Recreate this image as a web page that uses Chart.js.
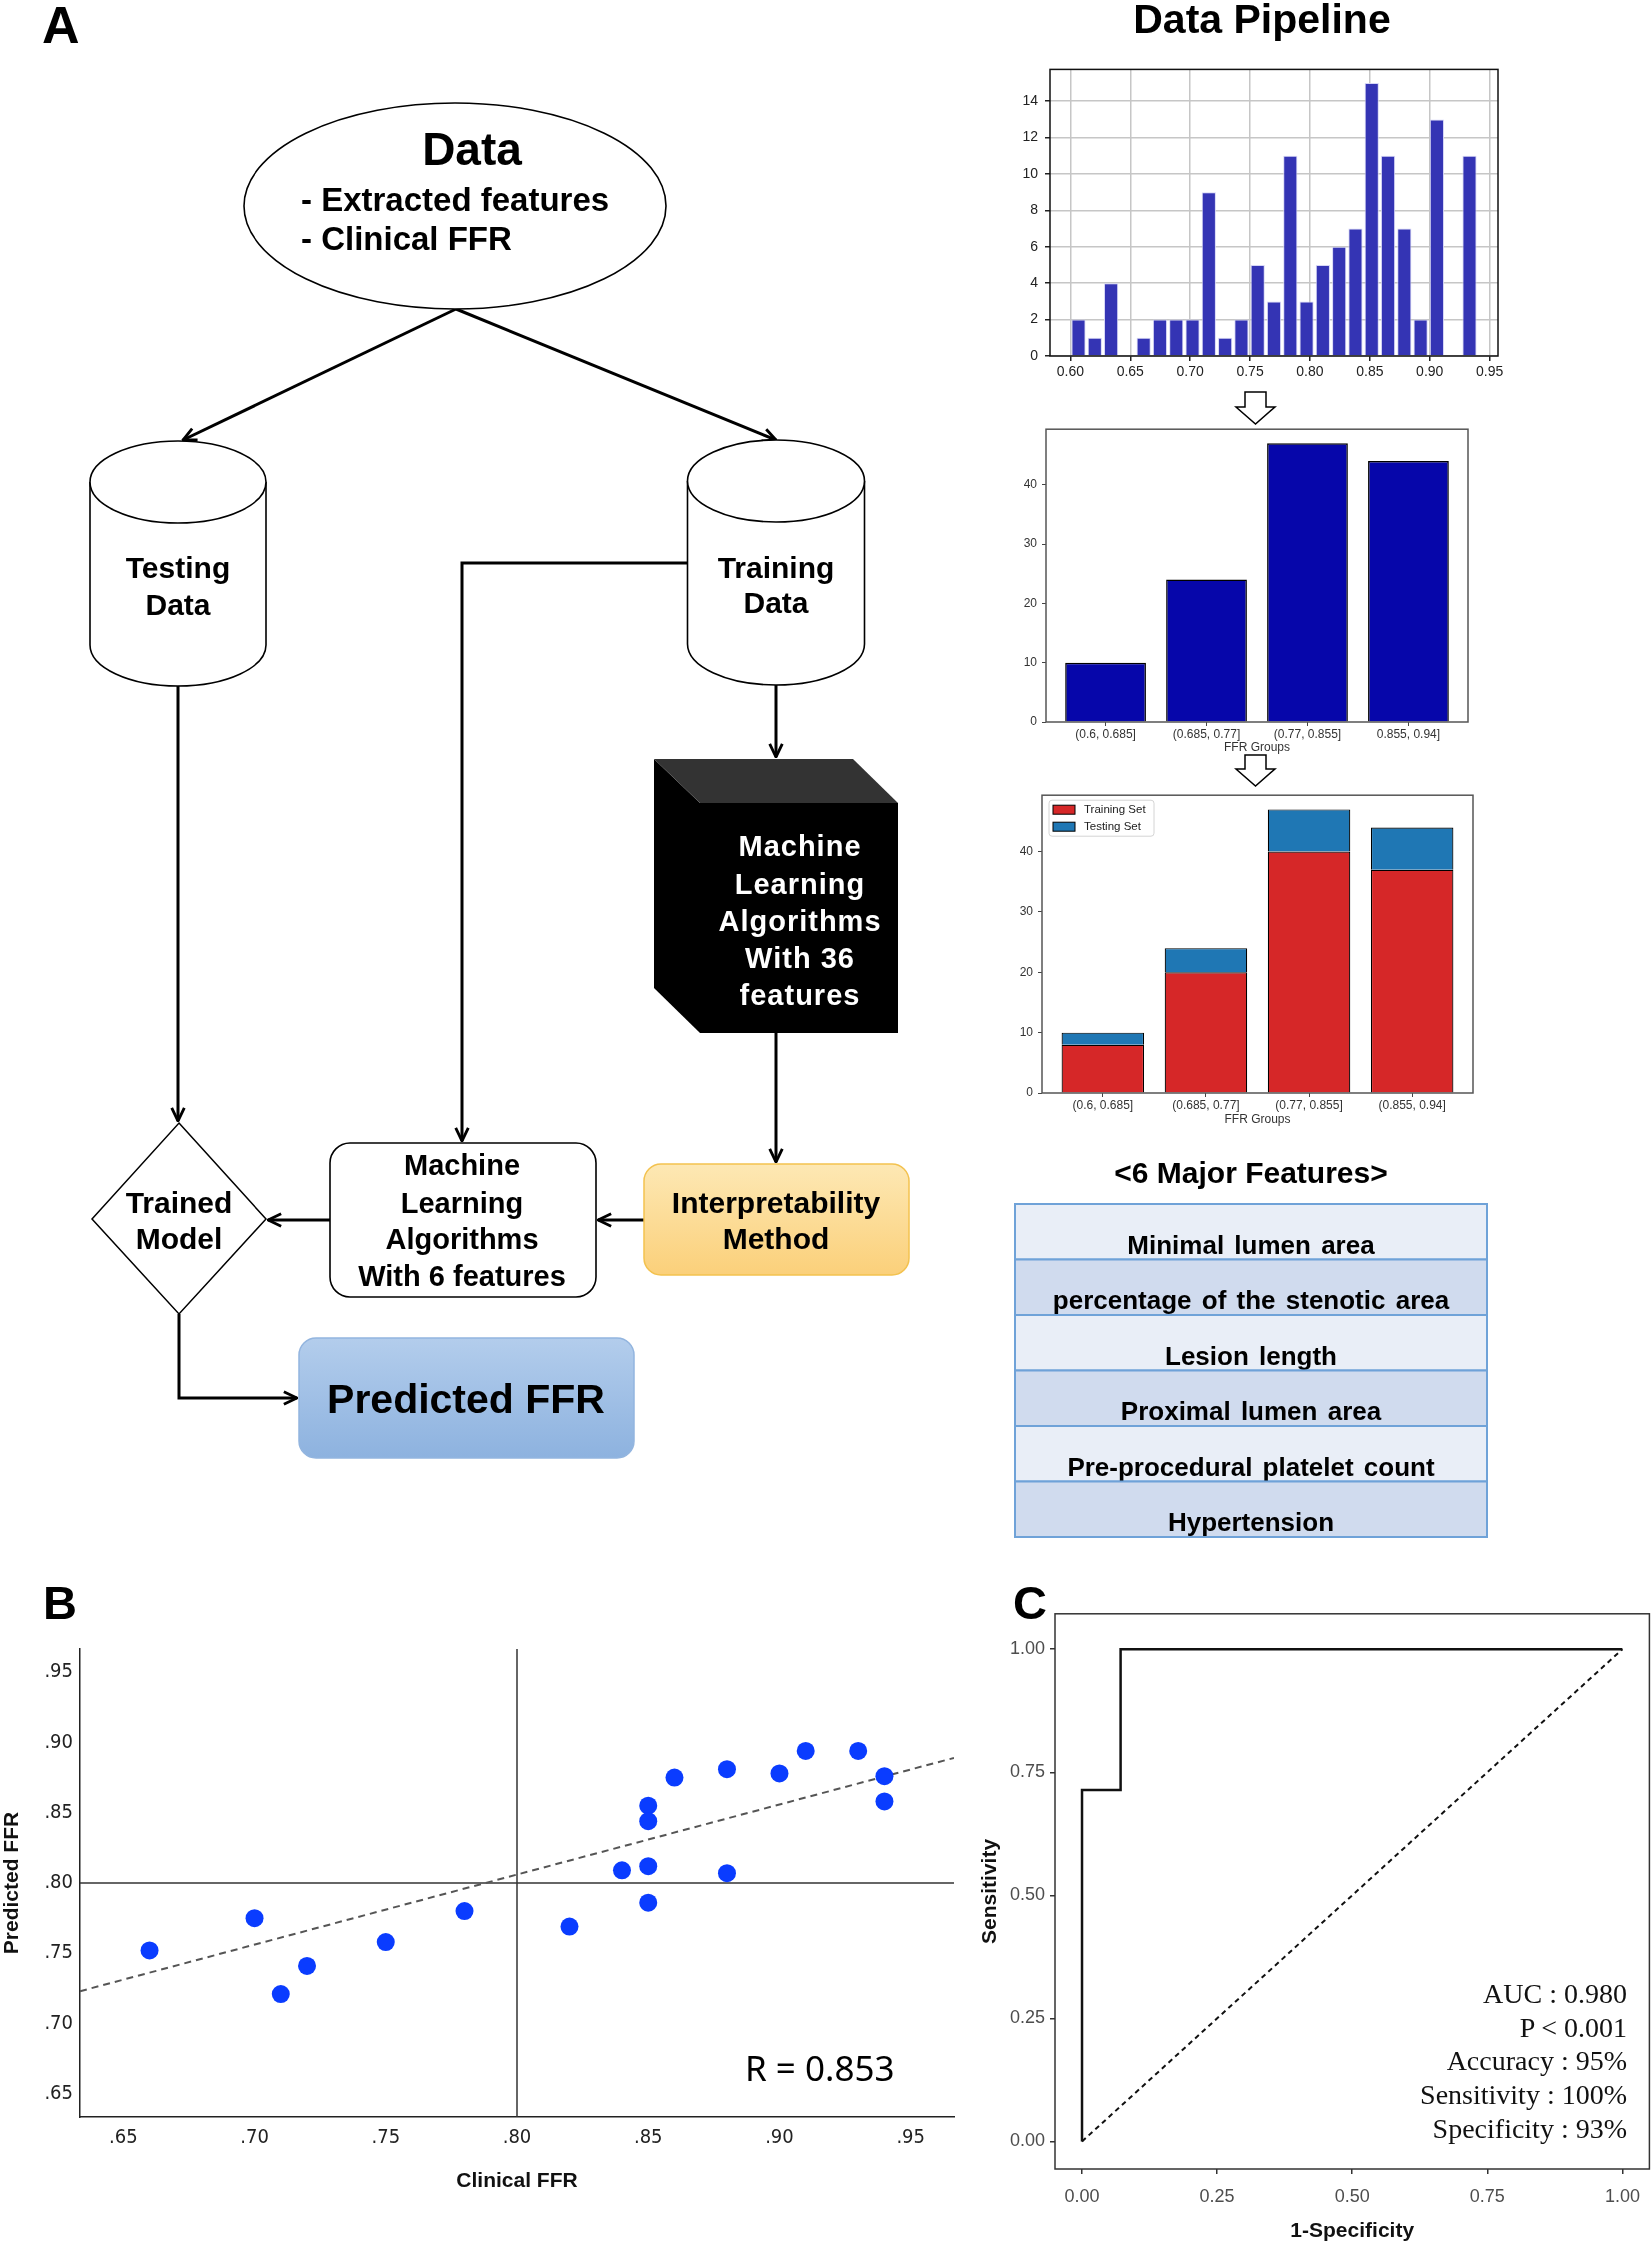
<!DOCTYPE html>
<html>
<head>
<meta charset="utf-8">
<script src="https://cdn.jsdelivr.net/npm/chart.js@4.4.1/dist/chart.umd.min.js"></script>
<style>
  html, body { margin: 0; padding: 0; background: #fff; }
  #page { position: relative; width: 1652px; height: 2244px; overflow: hidden; background: #fff; }
  canvas { position: absolute; }
  #art { position: absolute; left: 0; top: 0; pointer-events: none; }
</style>
</head>
<body>
<div id="page">
  <canvas id="hist" width="510" height="330" style="left:1000px;top:54px;width:510px;height:330px"></canvas>
  <canvas id="groups" width="484" height="340" style="left:996px;top:417px;width:484px;height:340px"></canvas>
  <canvas id="split" width="492" height="345" style="left:992px;top:783px;width:492px;height:345px"></canvas>
  <canvas id="scatter" width="970" height="570" style="left:0px;top:1630px;width:970px;height:570px"></canvas>
  <canvas id="roc" width="692" height="646" style="left:960px;top:1598px;width:692px;height:646px"></canvas>

  <svg id="art" width="1652" height="2244" viewBox="0 0 1652 2244" font-family="'Liberation Sans', Arial, sans-serif">
    <defs>
      <marker id="ah" viewBox="0 0 14 14" refX="13" refY="7" markerWidth="16" markerHeight="16" markerUnits="userSpaceOnUse" orient="auto">
        <path d="M1.5,1.5 L13,7 L1.5,12.5" fill="none" stroke="#000" stroke-width="2.5"/>
      </marker>
      <linearGradient id="gOrange" x1="0" y1="0" x2="0" y2="1">
        <stop offset="0" stop-color="#fde8b4"/><stop offset="1" stop-color="#fbd07a"/>
      </linearGradient>
      <linearGradient id="gBlue" x1="0" y1="0" x2="0" y2="1">
        <stop offset="0" stop-color="#b3cdec"/><stop offset="1" stop-color="#8db2df"/>
      </linearGradient>
    </defs>

    <!-- panel letters and headings -->
    <text x="42" y="43" font-size="52" font-weight="bold">A</text>
    <text x="43" y="1619" font-size="47" font-weight="bold">B</text>
    <text x="1013" y="1619" font-size="47" font-weight="bold">C</text>
    <text x="1262" y="33" font-size="41" font-weight="bold" text-anchor="middle">Data Pipeline</text>

    <!-- flowchart -->
    <g stroke="#000" stroke-width="3" fill="none">
      <path d="M456,309 L183,440" marker-end="url(#ah)"/>
      <path d="M456,309 L776,440" marker-end="url(#ah)"/>
      <path d="M687,563 L462,563 L462,1141" marker-end="url(#ah)"/>
      <path d="M178,686 L178,1121" marker-end="url(#ah)"/>
      <path d="M776,685 L776,757" marker-end="url(#ah)"/>
      <path d="M776,1033 L776,1162" marker-end="url(#ah)"/>
      <path d="M644,1220 L598,1220" marker-end="url(#ah)"/>
      <path d="M330,1220 L268,1220" marker-end="url(#ah)"/>
      <path d="M179,1314 L179,1398 L297,1398" marker-end="url(#ah)"/>
    </g>

    <ellipse cx="455" cy="206" rx="211" ry="103" fill="#fff" stroke="#000" stroke-width="1.6"/>
    <text x="472" y="149" font-size="46" font-weight="bold" text-anchor="middle" dominant-baseline="central">Data</text>
    <text x="301" y="199" font-size="33" font-weight="bold" dominant-baseline="central">- Extracted features</text>
    <text x="301" y="238" font-size="33" font-weight="bold" dominant-baseline="central">- Clinical FFR</text>

    <g fill="#fff" stroke="#000" stroke-width="1.6">
      <path d="M90,482 L90,645 A88,41 0 0 0 266,645 L266,482"/>
      <ellipse cx="178" cy="482" rx="88" ry="41"/>
      <path d="M687.5,481 L687.5,644 A88.5,41 0 0 0 864.5,644 L864.5,481"/>
      <ellipse cx="776" cy="481" rx="88.5" ry="41"/>
    </g>
    <g font-size="30" font-weight="bold" text-anchor="middle" dominant-baseline="central">
      <text x="178" y="567">Testing</text>
      <text x="178" y="604">Data</text>
      <text x="776" y="567">Training</text>
      <text x="776" y="602">Data</text>
    </g>

    <polygon points="654,759 700,803 700,1033 654,988" fill="#000"/>
    <polygon points="654,759 853,759 898,803 700,803" fill="#333"/>
    <rect x="700" y="803" width="198" height="230" fill="#000"/>
    <g font-size="29" font-weight="bold" fill="#fff" text-anchor="middle" dominant-baseline="central" letter-spacing="1">
      <text x="800" y="846">Machine</text>
      <text x="800" y="884">Learning</text>
      <text x="800" y="921">Algorithms</text>
      <text x="800" y="958">With 36</text>
      <text x="800" y="995">features</text>
    </g>

    <rect x="644" y="1164" width="265" height="111" rx="17" fill="url(#gOrange)" stroke="#f3c24f" stroke-width="1.5"/>
    <g font-size="30" font-weight="bold" text-anchor="middle" dominant-baseline="central">
      <text x="776" y="1202">Interpretability</text>
      <text x="776" y="1238">Method</text>
    </g>

    <rect x="330" y="1143" width="266" height="154" rx="20" fill="#fff" stroke="#000" stroke-width="1.6"/>
    <g font-size="29" font-weight="bold" text-anchor="middle" dominant-baseline="central">
      <text x="462" y="1165">Machine</text>
      <text x="462" y="1203">Learning</text>
      <text x="462" y="1239">Algorithms</text>
      <text x="462" y="1276">With 6 features</text>
    </g>

    <polygon points="179,1123 266,1219 179,1314 92,1219" fill="#fff" stroke="#000" stroke-width="1.5"/>
    <g font-size="30" font-weight="bold" text-anchor="middle" dominant-baseline="central">
      <text x="179" y="1202">Trained</text>
      <text x="179" y="1238">Model</text>
    </g>

    <rect x="299" y="1338" width="335" height="120" rx="17" fill="url(#gBlue)" stroke="#93b5df" stroke-width="1.5"/>
    <text x="466" y="1399" font-size="41" font-weight="bold" text-anchor="middle" dominant-baseline="central">Predicted FFR</text>

    <!-- hollow pipeline arrows -->
    <polygon points="1245,392 1266,392 1266,407 1275,407 1255.5,424 1236,407 1245,407" fill="#fff" stroke="#000" stroke-width="1.5"/>
    <polygon points="1245,755 1266,755 1266,769 1275,769 1255.5,786 1236,769 1245,769" fill="#fff" stroke="#000" stroke-width="1.5"/>

    <text x="1251" y="1183" font-size="30" font-weight="bold" text-anchor="middle">&lt;6 Major Features&gt;</text>
    <g id="featureTable"></g>

    <text x="745" y="2081" font-size="35" font-family="'Noto Sans', 'Liberation Sans', sans-serif">R = 0.853</text>
    <g id="rocStats" font-family="'Liberation Serif', 'Times New Roman', serif" font-size="28" fill="#111" text-anchor="end"></g>
  </svg>
</div>

<script>
// ---- histogram of clinical FFR (all lesions) ----
const histRange = [0.60, 0.94];
const histBinCount = 25;
const histCounts = [2, 1, 4, 0, 1, 2, 2, 2, 9, 1, 2, 5, 3, 11, 3, 5, 6, 7, 15, 11, 7, 2, 13, 0, 11];
const histXTicks = [0.60, 0.65, 0.70, 0.75, 0.80, 0.85, 0.90, 0.95];
const histYTicks = [0, 2, 4, 6, 8, 10, 12, 14];

// ---- FFR groups ----
const groupLabels = ['(0.6, 0.685]', '(0.685, 0.77]', '(0.77, 0.855]', '0.855, 0.94]'];
const splitLabels = ['(0.6, 0.685]', '(0.685, 0.77]', '(0.77, 0.855]', '(0.855, 0.94]'];
const groupCounts = [10, 24, 47, 44];
const trainCounts = [8, 20, 40, 37];
const testCounts = [2, 4, 7, 7];
const groupYTicks = [0, 10, 20, 30, 40];

// ---- scatter: clinical vs predicted FFR ----
const clinicalFFR = [0.66, 0.70, 0.71, 0.72, 0.75, 0.78, 0.82, 0.84, 0.85, 0.85, 0.85, 0.85, 0.86, 0.88, 0.88, 0.90, 0.91, 0.93, 0.94, 0.94];
const predictedFFR = [0.752, 0.775, 0.721, 0.741, 0.758, 0.780, 0.769, 0.809, 0.855, 0.844, 0.812, 0.786, 0.875, 0.881, 0.807, 0.878, 0.894, 0.894, 0.876, 0.858];
const fitLineX = [0.6335, 0.9665];
const fitLineY = [0.723, 0.889];
const cutoff = 0.80;
const ffrTicks = [0.65, 0.70, 0.75, 0.80, 0.85, 0.90, 0.95];

// ---- ROC ----
const rocFPR = [0, 0, 0.0714, 0.0714, 1];
const rocTPR = [0, 0.714, 0.714, 1, 1];
const rocTicks = [0, 0.25, 0.50, 0.75, 1.00];
const rocStats = ['AUC : 0.980', 'P < 0.001', 'Accuracy : 95%', 'Sensitivity : 100%', 'Specificity : 93%'];

const majorFeatures = ['Minimal lumen area', 'percentage of the stenotic area', 'Lesion length',
  'Proximal lumen area', 'Pre-procedural platelet count', 'Hypertension'];

Chart.defaults.font.family = "'Liberation Sans', Arial, sans-serif";
Chart.defaults.animation = false;
Chart.defaults.responsive = false;
Chart.defaults.plugins.legend.display = false;
Chart.defaults.plugins.tooltip.enabled = false;

// box around the plot area
Chart.register({
  id: 'frame',
  afterDraw(chart, args, opts) {
    if (!opts || !opts.color) return;
    const { ctx, chartArea: a } = chart;
    ctx.save();
    ctx.strokeStyle = opts.color;
    ctx.lineWidth = opts.width || 1;
    ctx.strokeRect(a.left, a.top, a.right - a.left, a.bottom - a.top);
    ctx.restore();
  }
});

const fixTicks = (list) => (axis) => { axis.ticks = list.map(v => ({ value: v })); };
const fixWidth = (w) => (s) => { s.width = w; };
const fixHeight = (h) => (s) => { s.height = h; };

// histogram
const binW = (histRange[1] - histRange[0]) / histBinCount;
new Chart(document.getElementById('hist'), {
  type: 'bar',
  data: {
    datasets: [{
      data: histCounts.map((c, i) => ({ x: histRange[0] + (i + 0.5) * binW, y: c })),
      backgroundColor: '#3434b4',
      borderColor: 'rgba(210,210,245,0.9)',
      borderWidth: 1,
      barPercentage: 0.87,
      categoryPercentage: 1
    }]
  },
  options: {
    layout: { padding: { top: 10, right: 12, left: 0, bottom: 0 } },
    scales: {
      x: {
        type: 'linear', offset: false, min: 0.583, max: 0.957, z: 1,
        afterBuildTicks: fixTicks(histXTicks), afterFit: fixHeight(28),
        grid: { offset: false, color: '#c6c6c6', lineWidth: 1.5, tickLength: 5, tickColor: '#222' },
        border: { display: false },
        ticks: { padding: 3, color: '#222', font: { size: 14 }, autoSkip: false, maxRotation: 0, callback: v => v.toFixed(2) }
      },
      y: {
        min: 0, max: 15.75, z: 1,
        afterBuildTicks: fixTicks(histYTicks), afterFit: fixWidth(50),
        grid: { color: '#c6c6c6', lineWidth: 1.5, tickLength: 5, tickColor: '#222' },
        border: { display: false },
        ticks: { padding: 7, color: '#222', font: { size: 14 } }
      }
    },
    plugins: { frame: { color: '#111', width: 1.5 } }
  }
});

function groupAxes(labels, xh, tickPad, titlePad) {
  return {
    x: {
      type: 'linear', offset: false, min: -0.59, max: 3.59, stacked: true,
      afterBuildTicks: fixTicks(labels.map((l, i) => i)), afterFit: fixHeight(xh),
      grid: { display: true, offset: false, drawOnChartArea: false, tickLength: 4, color: '#444' },
      border: { display: false },
      ticks: { padding: tickPad, color: '#333', font: { size: 12 }, autoSkip: false, maxRotation: 0, callback: v => labels[v] },
      title: { display: true, text: 'FFR Groups', color: '#333', font: { size: 12 }, padding: { top: 0, bottom: titlePad } }
    },
    y: {
      min: 0, max: 49.35, stacked: true,
      afterBuildTicks: fixTicks(groupYTicks), afterFit: fixWidth(50),
      grid: { display: true, drawOnChartArea: false, tickLength: 4, color: '#444' },
      border: { display: false },
      ticks: { padding: 5, color: '#333', font: { size: 12 } }
    }
  };
}

// group counts
new Chart(document.getElementById('groups'), {
  type: 'bar',
  data: {
    datasets: [{
      data: groupCounts.map((c, i) => ({ x: i, y: c })),
      backgroundColor: '#0606aa', borderColor: '#000', borderWidth: 1.5,
      barPercentage: 0.8, categoryPercentage: 1
    }]
  },
  options: {
    layout: { padding: { top: 10, right: 12, left: 0, bottom: 0 } },
    scales: groupAxes(groupLabels, 35, 1, 2),
    plugins: { frame: { color: '#555', width: 1.5 } }
  }
});

// training / testing split with an in-plot legend
const boxLegend = {
  id: 'boxLegend',
  afterDraw(chart) {
    const { ctx, chartArea: a } = chart;
    ctx.save();
    ctx.fillStyle = 'rgba(255,255,255,0.85)';
    ctx.strokeStyle = '#d4d4d4';
    ctx.lineWidth = 1;
    ctx.beginPath();
    ctx.roundRect(a.left + 7, a.top + 5, 105, 36, 3);
    ctx.fill();
    ctx.stroke();
    ctx.font = "11.5px 'Liberation Sans', Arial, sans-serif";
    ctx.textBaseline = 'middle';
    chart.data.datasets.forEach((ds, i) => {
      const y = a.top + 10 + i * 17;
      ctx.fillStyle = ds.backgroundColor;
      ctx.fillRect(a.left + 11, y, 22, 9);
      ctx.strokeStyle = '#000';
      ctx.strokeRect(a.left + 11, y, 22, 9);
      ctx.fillStyle = '#222';
      ctx.fillText(ds.label, a.left + 42, y + 4.5);
    });
    ctx.restore();
  }
};
new Chart(document.getElementById('split'), {
  type: 'bar',
  data: {
    datasets: [
      { label: 'Training Set', stack: 'all', data: trainCounts.map((c, i) => ({ x: i, y: c })),
        backgroundColor: '#d62728', borderColor: '#000', borderWidth: 1.2, barPercentage: 0.8, categoryPercentage: 1 },
      { label: 'Testing Set', stack: 'all', data: testCounts.map((c, i) => ({ x: i, y: c })),
        backgroundColor: '#1f77b4', borderColor: '#000', borderWidth: 1.2, barPercentage: 0.8, categoryPercentage: 1 }
    ]
  },
  options: {
    layout: { padding: { top: 10, right: 11, left: 0, bottom: 0 } },
    scales: groupAxes(splitLabels, 35, 1, 1),
    plugins: { frame: { color: '#555', width: 1.5 } }
  },
  plugins: [boxLegend]
});

// scatter
const dotLabel = v => v.toFixed(2).replace(/^0/, '');
const narrow = "'Liberation Sans Narrow', 'DejaVu Sans Condensed', 'Liberation Sans', sans-serif";
new Chart(document.getElementById('scatter'), {
  type: 'scatter',
  data: {
    datasets: [
      { data: clinicalFFR.map((x, i) => ({ x, y: predictedFFR[i] })), backgroundColor: '#0a3cff',
        borderWidth: 0, pointRadius: 9, order: 0 },
      { data: fitLineX.map((x, i) => ({ x, y: fitLineY[i] })), showLine: true, borderColor: '#555',
        borderWidth: 2, borderDash: [7, 5], pointRadius: 0, order: 1 },
      { data: [{ x: cutoff, y: 0.6335 }, { x: cutoff, y: 0.9665 }], showLine: true, borderColor: '#333',
        borderWidth: 1.5, pointRadius: 0, order: 2 },
      { data: [{ x: 0.6335, y: cutoff }, { x: 0.9665, y: cutoff }], showLine: true, borderColor: '#333',
        borderWidth: 1.5, pointRadius: 0, order: 2 }
    ]
  },
  options: {
    layout: { padding: { top: 9, right: 16, left: 0, bottom: 0 } },
    scales: {
      x: {
        min: 0.6335, max: 0.9665,
        afterBuildTicks: fixTicks(ffrTicks), afterFit: fixHeight(83),
        grid: { display: false, drawTicks: false },
        border: { display: true, color: '#222', width: 1.5 },
        ticks: { padding: 9, color: '#222', font: { size: 20, family: narrow }, autoSkip: false, maxRotation: 0, callback: dotLabel },
        title: { display: true, text: 'Clinical FFR', color: '#111', font: { size: 21, weight: 'bold' }, padding: { top: 0, bottom: 6 } }
      },
      y: {
        min: 0.6335, max: 0.9665,
        afterBuildTicks: fixTicks(ffrTicks), afterFit: fixWidth(80),
        grid: { display: false, drawTicks: false },
        border: { display: true, color: '#222', width: 1.5 },
        ticks: { padding: 7, color: '#222', font: { size: 20, family: narrow }, callback: dotLabel },
        title: { display: true, text: 'Predicted FFR', color: '#111', font: { size: 21, weight: 'bold' }, padding: { top: 0, bottom: 0 } }
      }
    }
  }
});

// ROC curve
new Chart(document.getElementById('roc'), {
  type: 'scatter',
  data: {
    datasets: [
      { data: rocFPR.map((x, i) => ({ x, y: rocTPR[i] })), showLine: true, borderColor: '#111',
        borderWidth: 2.5, pointRadius: 0, order: 0 },
      { data: [{ x: 0, y: 0 }, { x: 1, y: 1 }], showLine: true, borderColor: '#111',
        borderWidth: 2, borderDash: [5, 4], pointRadius: 0, order: 1 }
    ]
  },
  options: {
    layout: { padding: { top: 10, right: 2, left: 0, bottom: 0 } },
    scales: {
      x: {
        min: -0.05, max: 1.05,
        afterBuildTicks: fixTicks(rocTicks), afterFit: fixHeight(75),
        grid: { display: true, drawOnChartArea: false, tickLength: 5, color: '#333', lineWidth: 1.5 },
        border: { display: false },
        ticks: { padding: 12, color: '#4d4d4d', font: { size: 18 }, autoSkip: false, maxRotation: 0, callback: v => v.toFixed(2) },
        title: { display: true, text: '1-Specificity', color: '#111', font: { size: 21, weight: 'bold' }, padding: { top: 0, bottom: 0 } }
      },
      y: {
        min: -0.056, max: 1.072,
        afterBuildTicks: fixTicks(rocTicks), afterFit: fixWidth(95),
        grid: { display: true, drawOnChartArea: false, tickLength: 5, color: '#333', lineWidth: 1.5 },
        border: { display: false },
        ticks: { padding: 5, color: '#4d4d4d', font: { size: 18 }, callback: v => v.toFixed(2) },
        title: { display: true, text: 'Sensitivity', color: '#111', font: { size: 21, weight: 'bold' }, padding: { top: 18, bottom: 0 } }
      }
    },
    plugins: { frame: { color: '#333', width: 1.5 } }
  }
});

// feature table and ROC annotation text (real SVG text)
const NS = 'http://www.w3.org/2000/svg';
function svgEl(tag, attrs, text) {
  const el = document.createElementNS(NS, tag);
  Object.entries(attrs).forEach(([k, v]) => el.setAttribute(k, v));
  if (text !== undefined) el.textContent = text;
  return el;
}
const table = document.getElementById('featureTable');
const rowH = 55.5, tableTop = 1204, tableLeft = 1015, tableW = 472;
majorFeatures.forEach((name, i) => {
  const y = tableTop + i * rowH;
  table.appendChild(svgEl('rect', { x: tableLeft, y, width: tableW, height: rowH,
    fill: i % 2 ? '#d0dbee' : '#e9eef7', stroke: '#6fa2d8', 'stroke-width': 2 }));
  table.appendChild(svgEl('text', { x: tableLeft + tableW / 2, y: y + rowH - 6, 'font-size': 26,
    'font-weight': 'bold', 'text-anchor': 'middle', 'word-spacing': 3 }, name));
});
const stats = document.getElementById('rocStats');
rocStats.forEach((s, i) => {
  stats.appendChild(svgEl('text', { x: 1627, y: 2003 + i * 33.7 }, s));
});
</script>
</body>
</html>
